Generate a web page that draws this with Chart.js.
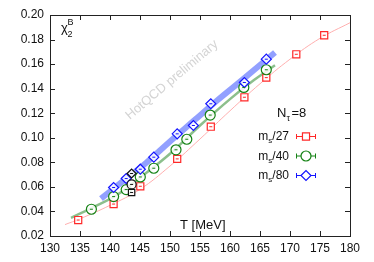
<!DOCTYPE html>
<html>
<head>
    <script src="https://cdn.jsdelivr.net/npm/chart.js"></script>
    <style>
        body { margin: 0; background: #fff; }
        #wrap { width: 374px; height: 262px; }
    </style>
</head>
<body>
    <div id="wrap"><canvas id="chart"></canvas></div>
    <script>
        // values
        const tMs27 = [134.7, 140.6, 145.05, 151.2, 156.8, 162.4, 166.05, 171.05, 175.7];
        const chiMs27 = [0.033, 0.046, 0.0605, 0.0828, 0.109, 0.133, 0.149, 0.168, 0.1835];
        const tMs40 = [136.9, 140.6, 142.7, 145.05, 147.3, 151.0, 152.8, 156.7, 162.3, 166.05];
        const chiMs40 = [0.0418, 0.0521, 0.0578, 0.0681, 0.0752, 0.0902, 0.0988, 0.1185, 0.141, 0.1554];
        const tMs80 = [140.6, 142.7, 145.05, 147.3, 151.2, 153.9, 156.8, 162.4, 166.05];
        const chiMs80 = [0.0595, 0.0668, 0.0744, 0.0842, 0.1032, 0.110, 0.1277, 0.145, 0.164];
        // black points at one temperature
        const tBlack = [143.6, 143.6, 143.6];
        const chiBlack = [0.0554, 0.062, 0.0709];
        // fit curves / bands
        const tFit27 = [132.5, 135, 140, 145, 150, 155, 160, 165, 170, 175, 180];
        const chiFit27 = [0.0293, 0.034, 0.045, 0.058, 0.077, 0.099, 0.122, 0.144, 0.164, 0.181, 0.1937];
        const tBand40 = [133.5, 137, 141, 145, 150, 155, 160, 164, 167.5];
        const chiBand40 = [0.0347, 0.043, 0.053, 0.0675, 0.087, 0.110, 0.1315, 0.147, 0.159];
        const tBand80 = [138.5, 142, 146, 150, 154, 158, 162, 167.5];
        const chiBand80 = [0.0505, 0.064, 0.0795, 0.097, 0.114, 0.131, 0.147, 0.1695];
        const xTicks = [130, 135, 140, 145, 150, 155, 160, 165, 170, 175, 180];
        const yTicks = [0.02, 0.04, 0.06, 0.08, 0.10, 0.12, 0.14, 0.16, 0.18, 0.20];

        const pts = (xs, ys) => xs.map((x, i) => ({ x: x, y: ys[i] }));
        const RED = 'rgb(255,40,40)', GREEN = 'rgb(20,130,20)', BLUE = 'rgb(20,20,255)';
        const FONT = '"Liberation Sans", Arial, sans-serif';

        const marker = (data, color, style, r) => ({
            data: data, showLine: false, order: 0,
            pointStyle: style, pointRadius: r || 5,
            borderColor: color, backgroundColor: 'rgba(255,255,255,0.85)',
            pointBorderWidth: 1.2, pointHoverRadius: r || 5
        });
        const curve = (data, color, w) => ({
            data: data, showLine: true, order: 1, pointRadius: 0,
            borderColor: color, borderWidth: w, tension: 0.4, borderCapStyle: 'butt'
        });

        const decor = {
            id: 'decor',
            beforeDatasetsDraw(chart) {
                const c = chart.ctx;
                c.save();
                c.translate(172, 80);
                c.rotate(-40 * Math.PI / 180);
                c.fillStyle = 'rgb(212,212,212)';
                c.font = '13px ' + FONT;
                c.textAlign = 'center';
                c.textBaseline = 'middle';
                c.fillText('HotQCD preliminary', 0, 0);
                c.restore();
            },
            afterDatasetsDraw(chart) {
                const c = chart.ctx, a = chart.chartArea;
                const xs = chart.scales.x, ys = chart.scales.y;
                c.save();
                // small error dashes in markers
                chart.data.datasets.forEach(ds => {
                    if (ds.showLine) return;
                    c.strokeStyle = ds.borderColor;
                    c.lineWidth = 1;
                    ds.data.forEach(p => {
                        const px = xs.getPixelForValue(p.x), py = ys.getPixelForValue(p.y);
                        c.beginPath();
                        c.moveTo(px - 1.5, py);
                        c.lineTo(px + 1.5, py);
                        c.stroke();
                    });
                });
                // frame and inward ticks
                c.strokeStyle = '#222';
                c.lineWidth = 1;
                c.strokeRect(Math.round(a.left) + 0.5, Math.round(a.top) + 0.5,
                    Math.round(a.right - a.left), Math.round(a.bottom - a.top));
                c.beginPath();
                xTicks.forEach(v => {
                    const px = Math.round(xs.getPixelForValue(v)) + 0.5;
                    c.moveTo(px, a.bottom); c.lineTo(px, a.bottom - 5);
                    c.moveTo(px, a.top); c.lineTo(px, a.top + 5);
                });
                yTicks.forEach(v => {
                    const py = Math.round(ys.getPixelForValue(v)) + 0.5;
                    c.moveTo(a.left, py); c.lineTo(a.left + 5, py);
                    c.moveTo(a.right, py); c.lineTo(a.right - 5, py);
                });
                c.stroke();
                // labels
                c.fillStyle = '#111';
                c.textBaseline = 'alphabetic';
                c.textAlign = 'left';
                c.font = '13px ' + FONT;
                c.fillText('\u03c7', 61, 32);
                c.font = '9px ' + FONT;
                c.fillText('2', 67.5, 37);
                c.fillText('B', 67.5, 25);
                c.font = '13px ' + FONT;
                c.fillText('T [MeV]', 180, 229);
                c.fillText('N', 277, 117);
                let w = c.measureText('N').width;
                c.font = '9px ' + FONT;
                c.fillText('\u03c4', 277 + w, 121);
                c.font = '13px ' + FONT;
                c.fillText('=8', 277 + w + 5, 117);
                // legend
                const legend = [['27', RED, 'rect'], ['40', GREEN, 'circle'], ['80', BLUE, 'rectRot']];
                legend.forEach((e, i) => {
                    const y = 136 + i * 19.5;
                    c.font = '12px ' + FONT;
                    c.fillStyle = '#111';
                    const tail = '/' + e[0];
                    const wm = c.measureText('m').width, wt = c.measureText(tail).width;
                    c.font = '8px ' + FONT;
                    const ws = c.measureText('s').width;
                    const x0 = 289 - wt - ws - wm;
                    c.font = '12px ' + FONT;
                    c.fillText('m', x0, y + 4);
                    c.fillText(tail, x0 + wm + ws, y + 4);
                    c.font = '8px ' + FONT;
                    c.fillText('s', x0 + wm, y + 7);
                    c.strokeStyle = e[1];
                    c.lineWidth = 1;
                    c.beginPath();
                    c.moveTo(296, y + 0.5); c.lineTo(316, y + 0.5);
                    c.moveTo(296.5, y - 2); c.lineTo(296.5, y + 3);
                    c.moveTo(315.5, y - 2); c.lineTo(315.5, y + 3);
                    c.stroke();
                    c.fillStyle = '#fff';
                    c.lineWidth = 1.2;
                    Chart.helpers.drawPoint(c, { pointStyle: e[2], radius: 5, rotation: 0, borderWidth: 1.2 }, 306, y + 0.5);
                });
                c.restore();
            }
        };

        new Chart(document.getElementById('chart'), {
            type: 'scatter',
            data: {
                datasets: [
                    marker(pts(tBlack, chiBlack), '#111', ['rect', 'circle', 'rectRot'], 4.5),
                    marker(pts(tMs80, chiMs80), BLUE, 'rectRot'),
                    marker(pts(tMs40, chiMs40), GREEN, 'circle'),
                    marker(pts(tMs27, chiMs27), RED, 'rect'),
                    curve(pts(tBand80, chiBand80), 'rgba(100,120,255,0.7)', 6),
                    curve(pts(tBand40, chiBand40), 'rgba(120,180,120,0.85)', 2.5),
                    curve(pts(tFit27, chiFit27), 'rgb(255,175,175)', 1)
                ]
            },
            plugins: [decor],
            options: {
                responsive: true,
                maintainAspectRatio: false,
                animation: false,
                events: [],
                layout: { padding: { left: 0, right: 24, top: 15, bottom: 0 } },
                plugins: { legend: { display: false }, tooltip: { enabled: false } },
                scales: {
                    x: {
                        type: 'linear', min: 130, max: 180,
                        afterBuildTicks: s => { s.ticks = xTicks.map(v => ({ value: v })); },
                        afterFit: s => { s.height = 26; },
                        grid: { display: false, drawTicks: false },
                        border: { display: false },
                        ticks: { padding: 5, color: '#111', font: { family: FONT, size: 12 }, maxRotation: 0 }
                    },
                    y: {
                        type: 'linear', min: 0.02, max: 0.2,
                        afterBuildTicks: s => { s.ticks = yTicks.map(v => ({ value: v })); },
                        afterFit: s => { s.width = 50; },
                        grid: { display: false, drawTicks: false },
                        border: { display: false },
                        ticks: { padding: 6, color: '#111', font: { family: FONT, size: 12 },
                            callback: v => v.toFixed(2) }
                    }
                }
            }
        });
    </script>
</body>
</html>
